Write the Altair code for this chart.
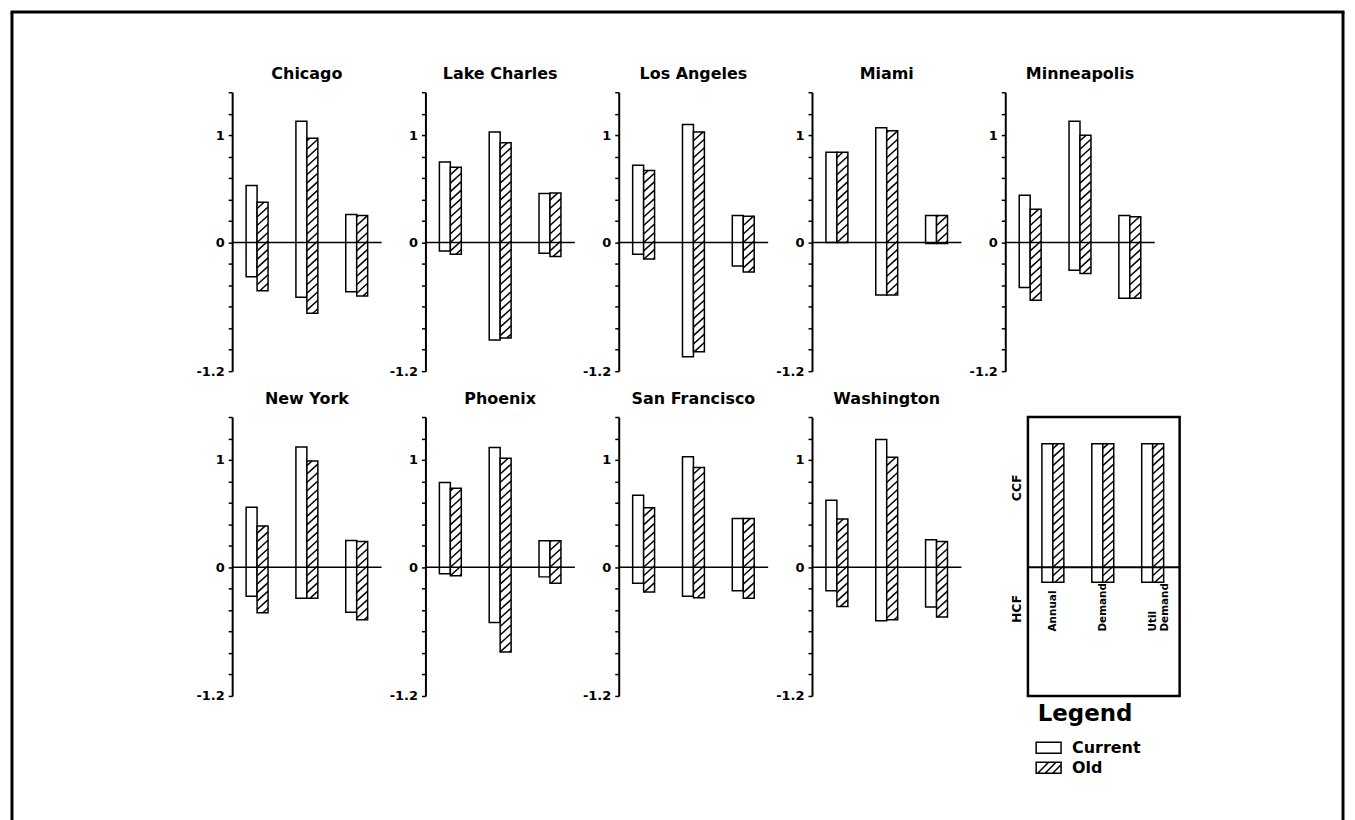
import math
import altair as alt
import pandas as pd

# ---------------- data ----------------
cities = ["Chicago", "Lake Charles", "Los Angeles", "Miami", "Minneapolis",
          "New York", "Phoenix", "San Francisco", "Washington"]
categories = ["Annual", "Demand", "Util Demand"]
series_names = ["Current", "Old"]

# CCF part (above zero), per city: [Annual, Demand, Util Demand]
ccf_current = [[0.53, 1.13, 0.26], [0.75, 1.03, 0.455], [0.72, 1.10, 0.25],
               [0.84, 1.07, 0.25], [0.44, 1.13, 0.25], [0.56, 1.12, 0.25],
               [0.79, 1.115, 0.247], [0.67, 1.03, 0.455], [0.625, 1.19, 0.255]]
ccf_old = [[0.375, 0.97, 0.25], [0.70, 0.93, 0.46], [0.67, 1.03, 0.245],
           [0.84, 1.04, 0.25], [0.31, 1.00, 0.24], [0.385, 0.99, 0.24],
           [0.735, 1.015, 0.247], [0.555, 0.93, 0.455], [0.45, 1.025, 0.24]]
# HCF part (below zero)
hcf_current = [[-0.32, -0.51, -0.46], [-0.08, -0.91, -0.10], [-0.11, -1.065, -0.22],
               [0.0, -0.49, -0.01], [-0.42, -0.26, -0.52], [-0.27, -0.29, -0.42],
               [-0.06, -0.515, -0.09], [-0.15, -0.27, -0.22], [-0.22, -0.50, -0.37]]
hcf_old = [[-0.45, -0.66, -0.50], [-0.11, -0.89, -0.13], [-0.155, -1.02, -0.275],
           [0.0, -0.49, -0.01], [-0.54, -0.29, -0.52], [-0.425, -0.29, -0.49],
           [-0.08, -0.79, -0.15], [-0.23, -0.285, -0.29], [-0.365, -0.49, -0.465]]

# key panel example bars
key_ccf = [1.15, 1.15, 1.15]
key_hcf = [-0.14, -0.14, -0.14]
side_labels = ["CCF", "HCF"]
side_label_y = [0.74, -0.39]
tick_label_values = [1, 0, -1.2]

# ---------------- layout / style constants ----------------
W, H = 150, 280
LEG_W = 175
COL_SPACING, ROW_SPACING = 44, 46
Y_DOM = [-1.2, 1.4]
X_DOM = [0, 3]
LEG_X_DOM = [-0.454, 3.04]
PX_PER_X = W / (X_DOM[1] - X_DOM[0])
PX_PER_Y = H / (Y_DOM[1] - Y_DOM[0])
BAR_W = 11 / PX_PER_X
RISE = 10 / PX_PER_Y
GAP = 8.5 / PX_PER_Y
FONT = "DejaVu Sans"
TICKS = [round(Y_DOM[0] + 0.2 * k, 1) for k in range(14)]

# outer frame, placed relative to the key panel origin
CHI_X, CHI_Y = 232, 92
KEY_PX = CHI_X + 4 * (W + COL_SPACING)
KEY_PY = CHI_Y + H + ROW_SPACING
FRAME_L = 11 - KEY_PX
FRAME_R = 1347 - KEY_PX
FRAME_T = 11.5 - KEY_PY
FRAME_B = 830 - KEY_PY

one = pd.DataFrame({"v": [0]})


def bar_rows(name, cur_hi, cur_lo, old_hi, old_lo):
    rows = []
    for i, cat in enumerate(categories):
        c = i + 0.5
        rows.append(dict(city=name, cat=cat, series="Current",
                         x0=c - BAR_W, x1=c, lo=cur_lo[i], hi=cur_hi[i]))
        rows.append(dict(city=name, cat=cat, series="Old",
                         x0=c, x1=c + BAR_W, lo=old_lo[i], hi=old_hi[i]))
    return rows


def hatch_rows(rows):
    out = []
    for r in rows:
        if r["series"] != "Old":
            continue
        lo, hi, x0, x1 = r["lo"], r["hi"], r["x0"], r["x1"]
        k = math.floor((lo - RISE) / GAP)
        while k * GAP < hi:
            b = k * GAP
            t0 = max(0.0, (lo - b) / RISE)
            t1 = min(1.0, (hi - b) / RISE)
            if t1 - t0 > 1e-6:
                out.append(dict(hx0=x0 + (x1 - x0) * t0, hy0=b + RISE * t0,
                                hx1=x0 + (x1 - x0) * t1, hy1=b + RISE * t1))
            k += 1
    if not out:
        out.append(dict(hx0=0, hy0=0, hx1=0, hy1=0))
    return out


label_expr = " : ".join(
    f"datum.value == {v} ? '{v}'" for v in tick_label_values) + " : ''"


def y_axis():
    return alt.Axis(values=TICKS, labelExpr=label_expr, title=None, grid=False,
                    domainColor="black", domainWidth=2, tickColor="black",
                    tickWidth=1.5, tickSize=4, labelFont=FONT, labelFontWeight="bold",
                    labelFontSize=13, labelColor="black", labelPadding=4,
                    labelOverlap=False)


def bars_layers(rows, xs, ys, axis_fn):
    bdf = pd.DataFrame(rows)
    hdf = pd.DataFrame(hatch_rows(rows))
    bars = alt.Chart(bdf).mark_rect(fill="white", stroke="black", strokeWidth=1.5).encode(
        x=alt.X("x0:Q", scale=xs, axis=None), x2="x1:Q",
        y=alt.Y("lo:Q", scale=ys, axis=axis_fn()), y2="hi:Q")
    hatch = alt.Chart(hdf).mark_rule(color="black", strokeWidth=1.5).encode(
        x=alt.X("hx0:Q", scale=xs, axis=None), x2="hx1:Q",
        y=alt.Y("hy0:Q", scale=ys, axis=axis_fn()), y2="hy1:Q")
    return bars, hatch


def no_axis():
    return None


def city_panel(k):
    name = cities[k]
    rows = bar_rows(name, ccf_current[k], hcf_current[k], ccf_old[k], hcf_old[k])
    xs = alt.Scale(domain=X_DOM, nice=False, zero=False)
    ys = alt.Scale(domain=Y_DOM, nice=False, zero=False)
    bars, hatch = bars_layers(rows, xs, ys, y_axis)
    zero = alt.Chart(one).mark_rule(color="black", strokeWidth=1.5).encode(
        x=alt.value(0), x2=alt.value(W), y=alt.YDatum(0, scale=ys, axis=y_axis()))
    return alt.layer(bars, hatch, zero).properties(
        width=W, height=H,
        title=alt.TitleParams(name, font=FONT, fontSize=16, fontWeight="bold",
                              color="black", anchor="middle", frame="group",
                              offset=-9, baseline="alphabetic"))


def key_panel():
    xs = alt.Scale(domain=LEG_X_DOM, nice=False, zero=False)
    ys = alt.Scale(domain=Y_DOM, nice=False, zero=False)
    rows = bar_rows("key", key_ccf, key_hcf, key_ccf, key_hcf)
    box = alt.Chart(one).mark_rect(filled=False, color="black", strokeWidth=2.5).encode(
        x=alt.XDatum(0, scale=xs, axis=None), x2=alt.X2Datum(LEG_X_DOM[1]),
        y=alt.YDatum(Y_DOM[0], scale=ys, axis=None), y2=alt.Y2Datum(Y_DOM[1]))
    bars, hatch = bars_layers(rows, xs, ys, no_axis)
    zero = alt.Chart(one).mark_rule(color="black", strokeWidth=2).encode(
        x=alt.XDatum(0, scale=xs, axis=None), x2=alt.X2Datum(LEG_X_DOM[1]),
        y=alt.YDatum(0, scale=ys, axis=None))
    cat_df = pd.DataFrame({"x": [i + 0.5 for i in range(len(categories))],
                           "label": [c.replace(" ", "\n") for c in categories]})
    cat_text = alt.Chart(cat_df).mark_text(
        angle=270, align="left", baseline="middle", lineBreak="\n", font=FONT,
        fontWeight="bold", fontSize=10.5, color="black").encode(
        x=alt.X("x:Q", scale=xs, axis=None), y=alt.YDatum(-0.6, scale=ys, axis=None),
        text="label:N")
    side_df = pd.DataFrame({"t": side_labels, "y": side_label_y})
    side_text = alt.Chart(side_df).mark_text(
        angle=270, align="center", baseline="middle", font=FONT, fontWeight="bold",
        fontSize=12.5, color="black").encode(
        x=alt.XDatum(-0.214, scale=xs, axis=None), y=alt.Y("y:Q", scale=ys, axis=None),
        text="t:N")
    cur_path = "M-1.25,-0.55L1.25,-0.55L1.25,0.55L-1.25,0.55Z"
    old_path = (cur_path + " M-1.1,0.55L0,-0.55 M-0.35,0.55L0.75,-0.55"
                " M0.4,0.55L1.25,-0.3")
    legend_pts = alt.Chart(pd.DataFrame({"series": series_names})).transform_filter(
        "false").mark_point(filled=False, color="black", strokeWidth=1.5,
                            opacity=1).encode(
        shape=alt.Shape("series:N",
                        scale=alt.Scale(domain=series_names, range=[cur_path, old_path]),
                        legend=alt.Legend(
                            title="Legend", orient="none", legendX=32.5, legendY=287,
                            direction="vertical", padding=0,
                            titleFont=FONT, titleFontSize=23, titleFontWeight="bold",
                            titleColor="black", titlePadding=11,
                            labelFont=FONT, labelFontSize=16, labelFontWeight="bold",
                            labelColor="black", labelOffset=12.5,
                            symbolSize=400, symbolStrokeColor="black",
                            symbolStrokeWidth=1.5, symbolOpacity=1, rowPadding=0)))
    f_top = alt.Chart(one).mark_rule(color="black", strokeWidth=3).encode(
        x=alt.value(FRAME_L - 1.5), x2=alt.value(FRAME_R + 1.5), y=alt.value(FRAME_T))
    f_left = alt.Chart(one).mark_rule(color="black", strokeWidth=3).encode(
        x=alt.value(FRAME_L), y=alt.value(FRAME_T), y2=alt.value(FRAME_B))
    f_right = alt.Chart(one).mark_rule(color="black", strokeWidth=3).encode(
        x=alt.value(FRAME_R), y=alt.value(FRAME_T), y2=alt.value(FRAME_B))
    return alt.layer(box, bars, hatch, zero, cat_text, side_text, legend_pts,
                     f_top, f_left, f_right).properties(width=LEG_W, height=H)


panels = [city_panel(k) for k in range(len(cities))] + [key_panel()]

chart = alt.concat(*panels, columns=5, spacing={"row": ROW_SPACING, "column": COL_SPACING},
                   bounds="flush").resolve_scale(shape="independent").resolve_legend(
    shape="independent").properties(padding=0).configure(
    background="white").configure_view(stroke="transparent")

chart.save("out.html", embed_options={"renderer": "svg", "actions": False})
